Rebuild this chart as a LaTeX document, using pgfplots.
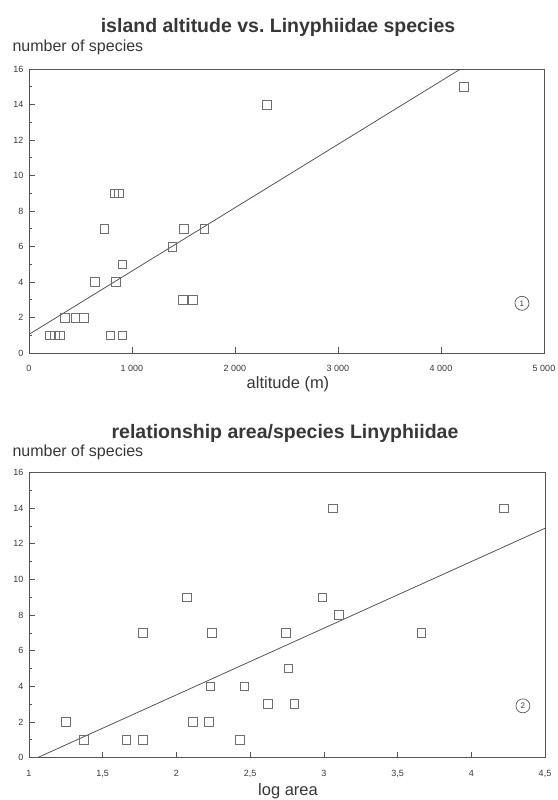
\documentclass[border=0pt]{standalone}
\usepackage{pgfplots}
\pgfplotsset{compat=1.18}
\usepackage{fontspec}
\setmainfont{Liberation Sans}
\definecolor{ink}{RGB}{55,55,55}
\definecolor{frame}{RGB}{85,85,85}
\definecolor{mk}{RGB}{110,110,110}
\begin{document}
\begin{tikzpicture}
\path[use as bounding box] (0pt,0pt) rectangle (557pt,-800pt);
\pgfplotsset{
  every axis/.append style={
    scale only axis,
    axis line style={frame, line width=0.8pt},
    tick style={frame, line width=0.6pt},
    major tick length=6pt, minor tick length=3pt,
    tick pos=left, tick align=inside,
    ticklabel style={font=\fontsize{9}{10}\selectfont, text=ink},
    /pgf/number format/assume math mode=true,
    xticklabel style={yshift=-9pt},
    yticklabel style={xshift=-2pt},
  },
}
% top panel
\node[font=\bfseries\fontsize{19.5}{22}\selectfont, text=ink] at (278pt,-27pt) {island altitude vs.\ Linyphiidae species};
\node[font=\fontsize{16}{18}\selectfont, text=ink, anchor=west] at (9pt,-47pt) {number of species};
\node[font=\fontsize{16.5}{18}\selectfont, text=ink] at (288pt,-384pt) {altitude (m)};
\begin{axis}[
  at={(29pt,-353pt)}, anchor=south west,
  width=515pt, height=284pt,
  xmin=0, xmax=5000, ymin=0, ymax=16,
  xtick={0,1000,2000,3000,4000,5000},
  ytick={0,2,4,6,8,10,12,14,16},
  minor y tick num=1,
  scaled x ticks=false,
  /pgf/number format/1000 sep={\ },
]
\addplot[only marks, mark=square, mark size=4.3pt, mark options={draw=mk, line width=0.6pt}] coordinates {
(200,1) (250,1) (300,1) (790,1) (905,1)
(350,2) (450,2) (530,2)
(640,4) (845,4) (905,5)
(730,7) (1500,7) (1700,7) (1390,6)
(1495,3) (1590,3)
(830,9) (870,9)
(2310,14) (4220,15)
};
\addplot[frame, line width=0.8pt] coordinates {(0,1.05) (4190,16)};
\node[circle, draw=frame, line width=0.7pt, minimum size=14pt, inner sep=0pt, font=\fontsize{8}{9}\selectfont, text=ink] at (axis cs:4786,2.8) {1};
\end{axis}
% bottom panel
\node[font=\bfseries\fontsize{19.5}{22}\selectfont, text=ink] at (285pt,-433pt) {relationship area/species Linyphiidae};
\node[font=\fontsize{16}{18}\selectfont, text=ink, anchor=west] at (9pt,-452pt) {number of species};
\node[font=\fontsize{16.5}{18}\selectfont, text=ink] at (288pt,-791pt) {log area};
\begin{axis}[
  at={(29pt,-757.5pt)}, anchor=south west,
  width=516pt, height=285pt,
  xmin=1, xmax=4.5, ymin=0, ymax=16,
  xtick={1,1.5,2,2.5,3,3.5,4,4.5},
  ytick={0,2,4,6,8,10,12,14,16},
  minor y tick num=1,
  /pgf/number format/use comma,
]
\addplot[only marks, mark=square, mark size=4.3pt, mark options={draw=mk, line width=0.6pt}] coordinates {
(1.25,2) (1.37,1) (1.66,1) (1.77,1) (1.77,7)
(2.07,9) (2.24,7) (2.23,4) (2.11,2) (2.22,2)
(2.43,1) (2.46,4) (2.62,3) (2.80,3) (2.74,7)
(2.76,5) (3.06,14) (4.22,14) (2.99,9) (3.10,8) (3.66,7)
};
\addplot[frame, line width=0.8pt] coordinates {(1.06,0) (4.5,12.87)};
\node[circle, draw=frame, line width=0.7pt, minimum size=14pt, inner sep=0pt, font=\fontsize{8}{9}\selectfont, text=ink] at (axis cs:4.35,2.9) {2};
\end{axis}
\end{tikzpicture}
\end{document}
